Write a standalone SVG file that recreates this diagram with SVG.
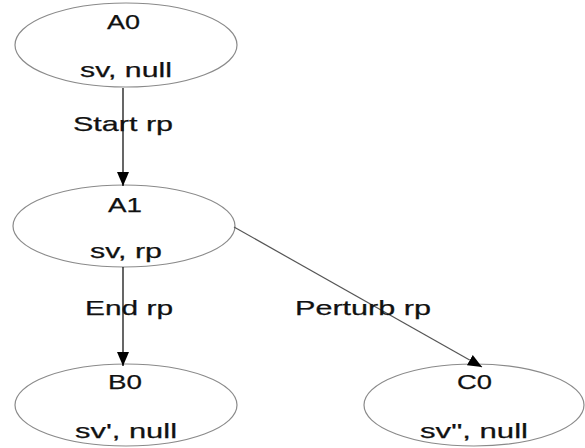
<svg xmlns="http://www.w3.org/2000/svg" width="585" height="448" viewBox="0 0 585 448">
<style>
.node ellipse{fill:#fff;stroke:#8a8a8a;stroke-width:1.2}
text{font-family:"Liberation Sans",Arial,sans-serif;font-size:21px;fill:#111;stroke:#111;stroke-width:0.25}
.edge{stroke:#000;stroke-width:1.2;fill:none}
.edge.gray{stroke:#555}
</style>
<defs>
<marker id="arr" markerUnits="userSpaceOnUse" markerWidth="14" markerHeight="14" viewBox="0 0 14 12" refX="14" refY="6" orient="auto">
<path d="M0,0 L14,6 L0,12 Z" fill="#000"/>
</marker>
</defs>
<rect width="585" height="448" fill="#fff"/>
<g id="A0" class="node">
<ellipse cx="126" cy="45" rx="111" ry="42"/>
<text x="107" y="29" textLength="33" lengthAdjust="spacingAndGlyphs">A0</text>
<text x="80" y="77" textLength="92" lengthAdjust="spacingAndGlyphs">sv, null</text>
</g>
<g id="A1" class="node">
<ellipse cx="124" cy="226" rx="111" ry="41"/>
<text x="108" y="212" textLength="34" lengthAdjust="spacingAndGlyphs">A1</text>
<text x="90" y="258" textLength="72" lengthAdjust="spacingAndGlyphs">sv, rp</text>
</g>
<g id="B0" class="node">
<ellipse cx="126" cy="405" rx="111" ry="41"/>
<text x="108" y="389" textLength="34" lengthAdjust="spacingAndGlyphs">B0</text>
<text x="75" y="438" textLength="102" lengthAdjust="spacingAndGlyphs">sv', null</text>
</g>
<g id="C0" class="node">
<ellipse cx="474" cy="405" rx="110" ry="41"/>
<text x="457" y="389" textLength="35" lengthAdjust="spacingAndGlyphs">C0</text>
<text x="420" y="438" textLength="108" lengthAdjust="spacingAndGlyphs">sv", null</text>
</g>
<g id="connectors">
<line class="edge" x1="123" y1="88" x2="123" y2="186" marker-end="url(#arr)"/>
<line class="edge" x1="123" y1="267" x2="123" y2="366" marker-end="url(#arr)"/>
<line class="edge gray" x1="234" y1="227" x2="482" y2="367" marker-end="url(#arr)"/>
<text x="73" y="131" textLength="100" lengthAdjust="spacingAndGlyphs">Start rp</text>
<text x="85" y="315" textLength="88" lengthAdjust="spacingAndGlyphs">End rp</text>
<text x="295" y="315" textLength="136" lengthAdjust="spacingAndGlyphs">Perturb rp</text>
</g>
</svg>
